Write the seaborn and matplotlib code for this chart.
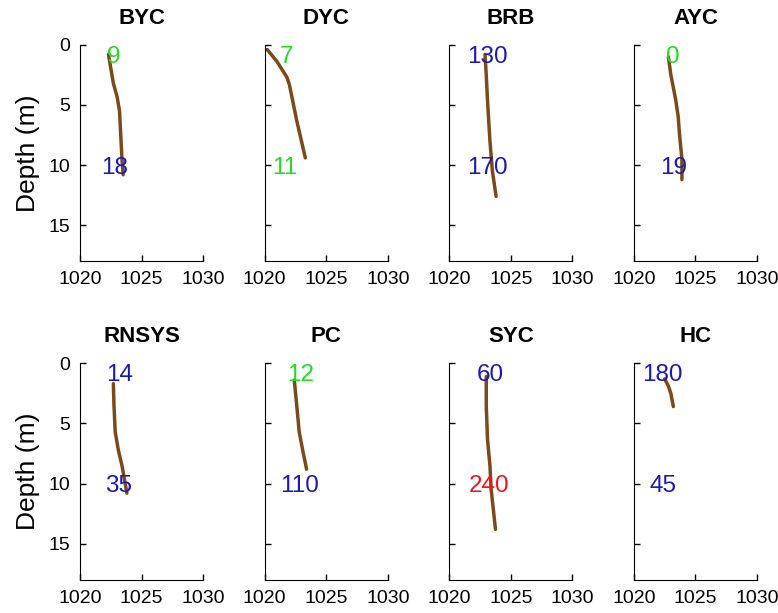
import pandas as pd
import matplotlib
matplotlib.use("Agg")
import matplotlib.pyplot as plt
import seaborn as sns

# sites, in panel order
sites = ["BYC", "DYC", "BRB", "AYC", "RNSYS", "PC", "SYC", "HC"]

# density profiles (kg/m3) vs depth (m)
byc_rho = [1022.3, 1022.5, 1022.7, 1023.0, 1023.2, 1023.3, 1023.4, 1023.5]
byc_z = [0.8, 2.0, 3.2, 4.3, 5.5, 7.5, 9.5, 10.8]
dyc_rho = [1020.2, 1021.0, 1021.8, 1022.0, 1022.6, 1023.3]
dyc_z = [0.4, 1.4, 2.7, 3.3, 6.3, 9.4]
brb_rho = [1022.9, 1023.0, 1023.1, 1023.3, 1023.5, 1023.8]
brb_z = [0.8, 2.5, 4.6, 8.0, 10.5, 12.6]
ayc_rho = [1022.8, 1023.0, 1023.4, 1023.6, 1023.7, 1023.9, 1023.9]
ayc_z = [1.0, 2.5, 4.6, 6.0, 7.4, 9.5, 11.2]
rnsys_rho = [1022.7, 1022.75, 1022.85, 1023.1, 1023.4, 1023.8]
rnsys_z = [1.7, 3.5, 5.7, 7.2, 8.5, 10.8]
pc_rho = [1022.4, 1022.6, 1022.8, 1023.1, 1023.4]
pc_z = [1.4, 3.5, 5.7, 7.3, 8.8]
syc_rho = [1023.0, 1023.0, 1023.1, 1023.3, 1023.4, 1023.75]
syc_z = [1.1, 3.5, 6.3, 8.5, 10.5, 13.8]
hc_rho = [1022.5, 1022.8, 1023.0, 1023.2]
hc_z = [1.3, 1.9, 2.5, 3.6]

# counts written in each panel (surface / bottom)
top_vals = [9, 7, 130, 0, 14, 12, 60, 180]
top_cols = ["g", "g", "b", "g", "b", "g", "b", "b"]
top_x = [1022.7, 1021.8, 1023.1, 1023.2, 1023.2, 1022.9, 1023.3, 1022.3]
top_z = 1.0
bot_vals = [18, 11, 170, 19, 35, 110, 240, 45]
bot_cols = ["b", "g", "b", "b", "b", "b", "r", "b"]
bot_x = [1022.8, 1021.6, 1023.1, 1023.2, 1023.1, 1022.8, 1023.2, 1022.4]
bot_z = 10.2

kleuren = {"g": "#22dd22", "b": "#1a1ab8", "r": "#ee1515"}

profiles = [(byc_rho, byc_z), (dyc_rho, dyc_z), (brb_rho, brb_z), (ayc_rho, ayc_z),
            (rnsys_rho, rnsys_z), (pc_rho, pc_z), (syc_rho, syc_z), (hc_rho, hc_z)]
rows = []
for s, (rho, z) in zip(sites, profiles):
    for r, d in zip(rho, z):
        rows.append({"site": s, "density": r, "depth": d})
df = pd.DataFrame(rows)

sns.set_style("ticks")
plt.rcParams["font.family"] = ["Liberation Sans", "DejaVu Sans"]
plt.rcParams.update({"text.color": "black", "axes.labelcolor": "black",
                     "xtick.color": "black", "ytick.color": "black",
                     "axes.edgecolor": "black"})

fig, axes = plt.subplots(2, 4, figsize=(7.78, 6.13), dpi=100)
fig.subplots_adjust(left=0.103, right=0.973, top=0.927, bottom=0.054,
                    wspace=0.50, hspace=0.47)

for i, (ax, s) in enumerate(zip(axes.flat, sites)):
    sns.lineplot(data=df[df["site"] == s], x="density", y="depth", sort=False,
                 estimator=None, color="#7a4a1a", lw=2.5, ax=ax)
    ax.text(top_x[i], top_z, str(top_vals[i]), color=kleuren[top_cols[i]],
            ha="center", va="center", fontsize=17.5)
    ax.text(bot_x[i], bot_z, str(bot_vals[i]), color=kleuren[bot_cols[i]],
            ha="center", va="center", fontsize=17.5)
    ax.set_xlim(1020, 1030)
    ax.set_ylim(18, 0)
    ax.set_xticks([1020, 1025, 1030])
    ax.set_yticks([0, 5, 10, 15])
    ax.tick_params(direction="in", length=4, width=1, labelsize=14, pad=7)
    ax.set_title(s, fontsize=16, fontweight="bold", pad=15, color="black")
    ax.set_xlabel("")
    if i % 4 == 0:
        ax.set_ylabel("Depth (m)", fontsize=19, labelpad=6)
    else:
        ax.set_ylabel("")
        ax.set_yticklabels([])
    sns.despine(ax=ax)

plt.savefig("out.png", dpi=100)
